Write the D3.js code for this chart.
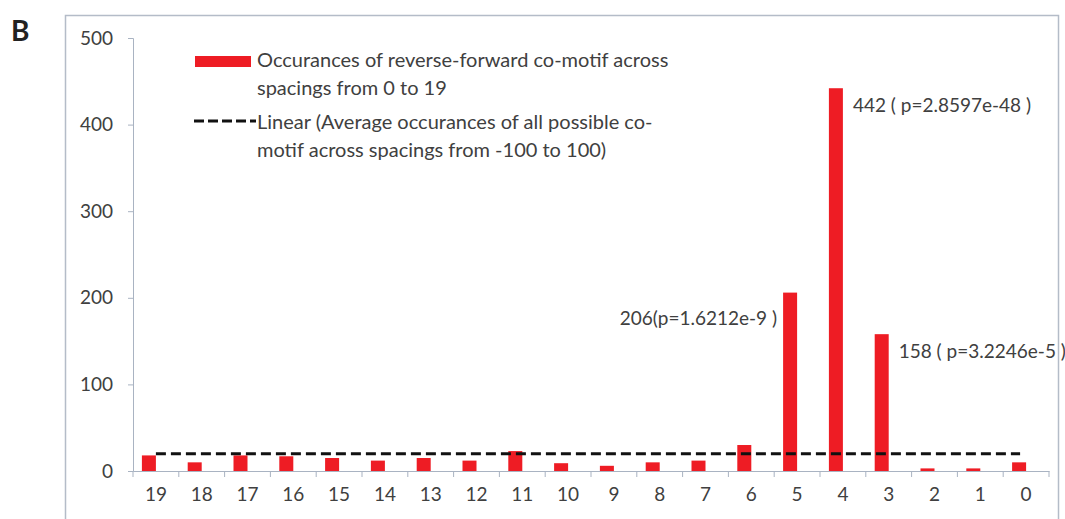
<!DOCTYPE html>
<html>
<head>
<meta charset="utf-8">
<script src="https://cdn.jsdelivr.net/npm/d3@7"></script>
<style>
  body { margin: 0; background: #fff; }
  text { font-family: Lato, "Open Sans", sans-serif; }
</style>
</head>
<body>
<script>
const config = {
  width: 1065,
  height: 519
};

// Chart data
const spacings = ["19", "18", "17", "16", "15", "14", "13", "12", "11", "10", "9", "8", "7", "6", "5", "4", "3", "2", "1", "0"];
const occurrences = [18, 10, 18, 17, 15, 12, 15, 12, 23, 9, 6, 10, 12, 30, 206, 442, 158, 3, 3, 10];
const averageLevel = [20, 20];
const yTicks = [0, 100, 200, 300, 400, 500];
const notes = [
  { spacing: "5", text: "206(p=1.6212e-9 )" },
  { spacing: "4", text: "442 ( p=2.8597e-48 )" },
  { spacing: "3", text: "158 ( p=3.2246e-5 )" }
];
const legendLines = [
  ["Occurances of reverse-forward  co-motif across", "spacings from 0 to 19"],
  ["Linear (Average occurances of all possible co-", "motif across spacings from -100 to 100)"]
];

const margin = { left: 133, right: 16, top: 38, bottom: 48 };
const fontSize = "19px";

const svg = d3
  .select("body")
  .append("svg")
  .attr("width", config.width)
  .attr("height", config.height);

// outer frame
svg
  .append("rect")
  .attr("x", 65.5)
  .attr("y", 15.5)
  .attr("width", 993)
  .attr("height", 540)
  .attr("fill", "none")
  .attr("stroke", "#b4bcc8")
  .attr("stroke-width", 1.5);

// panel letter
svg
  .append("text")
  .text("B")
  .attr("x", 11)
  .attr("y", 41)
  .attr("font-size", "28px")
  .attr("font-weight", "bold")
  .attr("fill", "#222");

// scales
const x = d3
  .scaleBand()
  .domain(spacings)
  .range([margin.left, config.width - margin.right]);

const y = d3
  .scaleLinear()
  .domain([0, 500])
  .range([config.height - margin.bottom, margin.top]);

// y axis
const yAxis = svg
  .append("g")
  .attr("transform", `translate(${margin.left}, 0)`)
  .call(d3.axisLeft(y).tickValues(yTicks).tickSize(5).tickPadding(15));

// x axis
const xAxis = svg
  .append("g")
  .attr("transform", `translate(0, ${y(0)})`)
  .call(d3.axisBottom(x).tickSize(0).tickPadding(17));

[yAxis, xAxis].forEach(g => {
  g.select(".domain").attr("stroke", "#a9b3c2");
  g.selectAll(".tick line").attr("stroke", "#a9b3c2");
  g.selectAll("text").attr("font-size", fontSize).attr("fill", "#404040");
});

// x tick marks at band edges
svg
  .append("g")
  .selectAll("line")
  .data(spacings.concat(["end"]))
  .enter()
  .append("line")
  .attr("x1", (d, i) => margin.left + i * x.step())
  .attr("x2", (d, i) => margin.left + i * x.step())
  .attr("y1", y(0))
  .attr("y2", y(0) + 6)
  .attr("stroke", "#a9b3c2");

// bars (sit left of the band centre, Excel style)
const barW = 14;
svg
  .append("g")
  .selectAll("rect")
  .data(occurrences)
  .enter()
  .append("rect")
  .attr("x", (d, i) => x(spacings[i]) + x.bandwidth() / 2 - barW)
  .attr("y", d => y(d))
  .attr("width", barW)
  .attr("height", d => y(0) - y(d))
  .attr("fill", "#ee1c24");

// average line
svg
  .append("line")
  .attr("x1", x(spacings[0]) + x.bandwidth() / 2)
  .attr("x2", x(spacings[spacings.length - 1]) + x.bandwidth() / 2 - 6)
  .attr("y1", y(averageLevel[0]))
  .attr("y2", y(averageLevel[1]))
  .attr("stroke", "#111")
  .attr("stroke-width", 3)
  .attr("stroke-dasharray", "10,5");

// value labels
const valueOf = s => occurrences[spacings.indexOf(s)];
svg
  .append("g")
  .selectAll("text")
  .data(notes)
  .enter()
  .append("text")
  .text(d => d.text)
  .attr("x", d => d.spacing === "5"
    ? x(d.spacing) + x.bandwidth() / 2 - barW - 6
    : x(d.spacing) + x.bandwidth() / 2 + 10)
  .attr("y", d => y(valueOf(d.spacing)) + (d.spacing === "5" ? 32 : 24))
  .attr("text-anchor", d => d.spacing === "5" ? "end" : "start")
  .attr("font-size", fontSize)
  .attr("fill", "#404040");

// legend
const legend = svg.append("g");
legend
  .append("rect")
  .attr("x", 195)
  .attr("y", 56)
  .attr("width", 56)
  .attr("height", 11)
  .attr("fill", "#ee1c24");
legend
  .append("line")
  .attr("x1", 194)
  .attr("x2", 256)
  .attr("y1", 121)
  .attr("y2", 121)
  .attr("stroke", "#111")
  .attr("stroke-width", 3)
  .attr("stroke-dasharray", "10,4");

legendLines.forEach((lines, k) => {
  lines.forEach((t, j) => {
    legend
      .append("text")
      .text(t)
      .attr("x", 257)
      .attr("y", 67 + k * 62 + j * 28)
      .attr("font-size", "20px")
      .attr("fill", "#404040");
  });
});
</script>
</body>
</html>
